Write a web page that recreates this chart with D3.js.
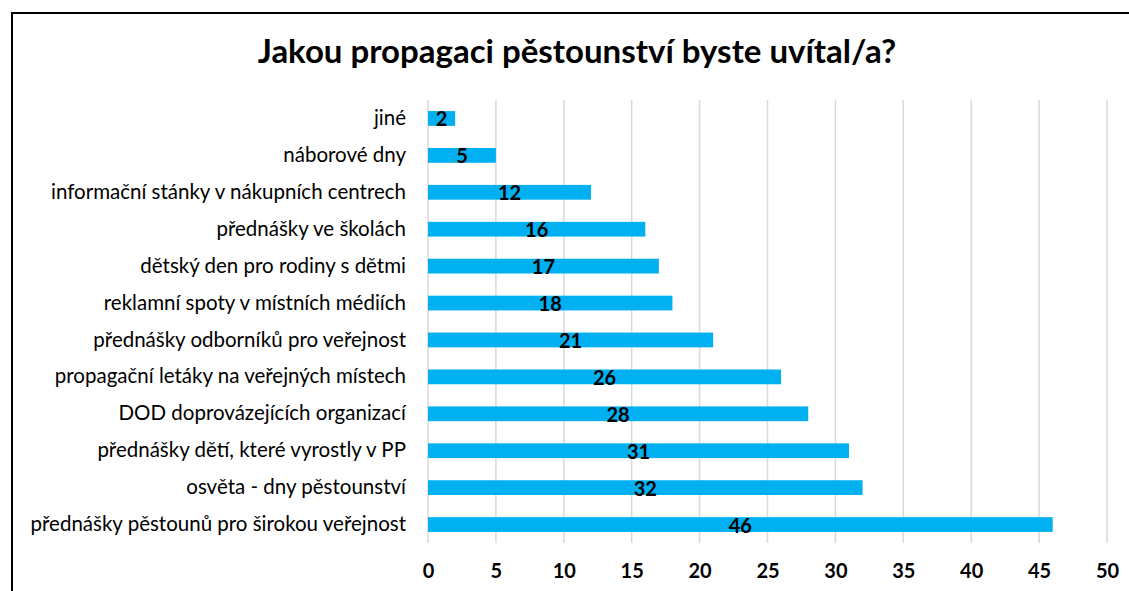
<!doctype html>
<html lang="cs">
<head>
<meta charset="UTF-8">
<script src="https://cdnjs.cloudflare.com/ajax/libs/d3/7.0.0/d3.min.js"></script>
<title>Jakou propagaci pěstounství byste uvítal/a?</title>
<style>
  body { margin: 0; background: #fff; }
  text { font-family: Lato, "Open Sans", sans-serif; }
</style>
</head>
<body>
<div id="viz_area"></div>
<script>
    const categories = [
        "jiné",
        "náborové dny",
        "informační stánky v nákupních centrech",
        "přednášky ve školách",
        "dětský den pro rodiny s dětmi",
        "reklamní spoty v místních médiích",
        "přednášky odborníků pro veřejnost",
        "propagační letáky na veřejných místech",
        "DOD doprovázejících organizací",
        "přednášky dětí, které vyrostly v PP",
        "osvěta - dny pěstounství",
        "přednášky pěstounů pro širokou veřejnost"
    ];
    const values = [2, 5, 12, 16, 17, 18, 21, 26, 28, 31, 32, 46];
    const xTicks = [0, 5, 10, 15, 20, 25, 30, 35, 40, 45, 50];
    const title = "Jakou propagaci pěstounství byste uvítal/a?";

    const W = 1129, H = 591;
    const margin = {top: 100, right: 22, bottom: 48, left: 428};

    const svg = d3.select('#viz_area')
        .append("svg")
        .attr("width", W)
        .attr("height", H);

    // chart frame (runs off the right and bottom edge)
    svg.append("rect")
        .attr("x", 12).attr("y", 13)
        .attr("width", W + 20).attr("height", H + 20)
        .attr("fill", "none")
        .attr("stroke", "#000")
        .attr("stroke-width", 2);

    svg.append("text")
        .attr("x", 577).attr("y", 63)
        .attr("text-anchor", "middle")
        .style("font-size", "33px")
        .style("font-weight", "bold")
        .text(title);

    const x = d3.scaleLinear()
        .domain([0, 50])
        .range([margin.left, 1107]);

    const y = d3.scaleBand()
        .domain(categories)
        .range([margin.top, H - margin.bottom])
        .paddingInner(0.6)
        .paddingOuter(0.3);

    // grid
    svg.append("g")
        .selectAll("line")
        .data(xTicks)
        .join("line")
        .attr("x1", d => x(d)).attr("x2", d => x(d))
        .attr("y1", margin.top).attr("y2", H - margin.bottom)
        .attr("stroke", "#d9d9d9")
        .attr("stroke-width", 1.5);

    // bars
    svg.append("g")
        .selectAll("rect")
        .data(values)
        .join("rect")
        .attr("x", x(0))
        .attr("y", (d, i) => y(categories[i]))
        .attr("width", d => x(d) - x(0))
        .attr("height", y.bandwidth())
        .attr("fill", "#00b0f0");

    // value labels
    svg.append("g")
        .selectAll("text")
        .data(values)
        .join("text")
        .attr("x", d => (x(0) + x(d)) / 2)
        .attr("y", (d, i) => y(categories[i]) + y.bandwidth() / 2 + 8)
        .attr("text-anchor", "middle")
        .style("font-size", "20px")
        .style("font-weight", "bold")
        .text(d => d);

    // category labels
    const yAxis = d3.axisLeft(y).tickSize(0).tickPadding(22);
    svg.append("g")
        .attr("transform", `translate(${margin.left},0)`)
        .call(yAxis)
        .call(g => g.select(".domain").remove())
        .selectAll("text")
        .style("font-size", "20.5px")
        .style("font-family", "Lato, 'Open Sans', sans-serif")
        .attr("fill", "#000");

    // x axis
    const xAxis = d3.axisBottom(x).tickValues(xTicks).tickSize(0).tickPadding(21);
    svg.append("g")
        .attr("transform", `translate(0,${H - margin.bottom})`)
        .call(xAxis)
        .call(g => g.select(".domain").remove())
        .selectAll("text")
        .style("font-size", "20px")
        .style("font-weight", "bold")
        .style("font-family", "Lato, 'Open Sans', sans-serif")
        .attr("fill", "#000");
</script>
</body>
</html>
